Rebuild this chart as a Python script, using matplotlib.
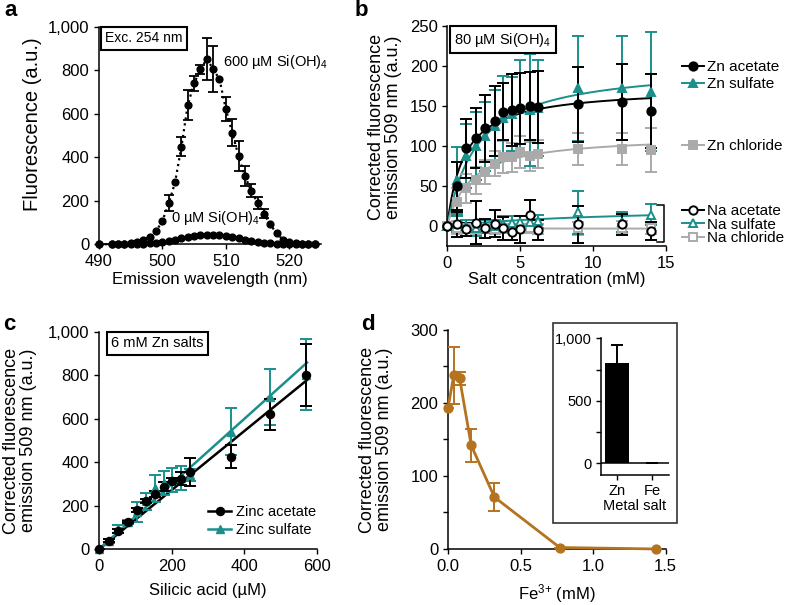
import numpy as np
import matplotlib
matplotlib.use('Agg')
import matplotlib.pyplot as plt
from matplotlib.ticker import FuncFormatter, MultipleLocator
from matplotlib.patches import Rectangle

plt.rcParams['font.family'] = ['Liberation Sans', 'DejaVu Sans']
plt.rcParams['mathtext.default'] = 'regular'
plt.rcParams['font.size'] = 12
plt.rcParams['axes.linewidth'] = 1.1
plt.rcParams['xtick.major.size'] = 3.5
plt.rcParams['ytick.major.size'] = 3.5
plt.rcParams['xtick.major.width'] = 1.0
plt.rcParams['ytick.major.width'] = 1.0

TEAL = '#1a8f8c'
GREY = '#aaaaaa'
BROWN = '#b5731f'

# ---- panel a: emission spectra ----
wavelength = [490, 492, 493, 494, 495, 496, 497, 498, 499, 500, 501, 502, 503, 504, 505,
              506, 507, 508, 509, 510, 511, 512, 513, 514, 515, 516, 517, 518, 519, 520,
              521, 522, 523, 524]
si_600 = [0, 1, 2, 3, 6, 12, 22, 33, 60, 107, 188, 285, 449, 640, 740,
          804, 851, 806, 758, 622, 513, 406, 314, 246, 191, 140, 92, 50, 22, 10,
          5, 3, 2, 2]
si_600_err = [0, 0, 0, 0, 0, 0, 0, 0, 0, 0, 37, 0, 42, 70, 35,
              20, 95, 106, 0, 55, 62, 70, 45, 30, 28, 20, 0, 0, 0, 0,
              0, 0, 0, 0]
si_0 = [0, 0, 0, 1, 1, 2, 3, 5, 8, 11, 16, 21, 27, 33, 38,
        42, 45, 44, 42, 38, 33, 28, 22, 17, 12, 8, 5, 3, 2, 1,
        0, 0, 0, 0]

# ---- panel b: salt titration ----
salt_mM = [0, 0.65, 1.3, 1.95, 2.6, 3.25, 3.85, 4.45, 5.0, 5.65, 6.25, 9, 12, 14]
zn_acetate = [0, 50, 97, 110, 122, 131, 143, 145, 147, 150, 149, 152, 155, 144]
zn_acetate_err = [0, 30, 37, 38, 42, 44, 36, 45, 44, 42, 45, 47, 48, 46]
zn_sulfate = [0, 57, 88, 100, 112, 125, 135, 140, 147, 145, 148, 172, 172, 168]
zn_sulfate_err = [0, 42, 40, 43, 43, 45, 52, 46, 60, 70, 60, 66, 65, 74]
zn_chloride = [0, 30, 47, 57, 68, 78, 86, 86, 93, 87, 90, 96, 96, 95]
zn_chloride_err = [0, 18, 18, 17, 15, 16, 20, 18, 20, 18, 17, 20, 20, 27]
na_acetate = [0, 2, -4, 4, -3, 3, -3, -7, -4, 14, -5, 2, 2, -6]
na_acetate_err = [0, 16, 8, 27, 12, 17, 14, 10, 17, 18, 12, 23, 13, 11]
na_sulfate = [0, 2, 0, -2, -1, 0, 2, 4, 5, 5, 6, 17, 5, 14]
na_sulfate_err = [0, 10, 8, 10, 8, 8, 10, 8, 8, 8, 8, 27, 12, 13]
na_chloride = [0, -2, -3, -4, -3, -4, -3, -3, -3, -3, -4, -3, -2, -3]
na_chloride_err = [0, 8, 6, 7, 6, 6, 6, 6, 6, 6, 6, 8, 8, 7]
# saturation fit parameters (Vmax, Km)
fit_vmax = [173, 202, 113.6, 25, -3.3]
fit_km = [1.15, 2.06, 1.6, 12, 0.3]
fit_colors = ['black', TEAL, GREY, TEAL, GREY]

# ---- panel c: silicic acid titration ----
si_uM = [0, 28, 53, 80, 105, 129, 154, 179, 202, 225, 250, 364, 470, 570]
zinc_acetate = [0, 40, 84, 127, 181, 223, 254, 288, 314, 325, 354, 426, 620, 800]
zinc_acetate_err = [0, 5, 8, 5, 10, 10, 15, 22, 15, 30, 65, 52, 70, 143]
zinc_sulfate = [0, 38, 95, 125, 170, 220, 280, 305, 318, 328, 340, 540, 700, 802]
zinc_sulfate_err = [0, 8, 18, 10, 45, 40, 62, 55, 55, 55, 28, 108, 130, 162]
slope_acetate = 1.36
slope_sulfate = 1.50

# ---- panel d: Fe3+ quenching ----
fe_mM = [0, 0.04, 0.08, 0.16, 0.32, 0.77, 1.43]
fe_signal = [193, 238, 234, 142, 71, 2, 0]
fe_err = [0, 39, 9, 23, 19, 0, 0]
metals = ['Zn', 'Fe']
metal_signal = [800, 0]
metal_err = [145, 0]

comma = FuncFormatter(lambda v, p: f'{int(v):,}')

fig = plt.figure(figsize=(7.88, 6.05), dpi=100)
ax_a = fig.add_axes([0.1256, 0.5962, 0.2817, 0.3597])
ax_b = fig.add_axes([0.5676, 0.5934, 0.2772, 0.3636])
ax_c = fig.add_axes([0.1256, 0.0921, 0.2770, 0.3597])
ax_d = fig.add_axes([0.5685, 0.0926, 0.2763, 0.3620])

for ax in (ax_a, ax_b, ax_c, ax_d):
    ax.spines['top'].set_visible(False)
    ax.spines['right'].set_visible(False)

box = dict(boxstyle='square,pad=0.3', fc='white', ec='black', lw=1.5)
ylab = 'Corrected fluorescence\nemission 509 nm (a.u.)'

# panel a
wl = np.array(wavelength)
e600 = np.array(si_600_err)
ax_a.plot(wl, si_0, '-', color='black', lw=1.2, marker='o', ms=4.9, clip_on=False, zorder=3)
ax_a.plot(wl, si_600, ':', color='black', lw=1.6, marker='o', ms=4.9, clip_on=False, zorder=3)
m = e600 > 0
ax_a.errorbar(wl[m], np.array(si_600)[m], yerr=e600[m], fmt='none', ecolor='black',
              elinewidth=1.3, capsize=3.5, capthick=1.3)
ax_a.set_xlim(490, 525)
ax_a.set_ylim(0, 1000)
ax_a.set_xticks([490, 500, 510, 520])
ax_a.set_yticks(range(0, 1001, 200))
ax_a.yaxis.set_major_formatter(comma)
ax_a.set_xlabel('Emission wavelength (nm)')
ax_a.set_ylabel('Fluorescence (a.u.)', fontsize=14.5)
ax_a.xaxis.set_label_coords(0.5, -0.125)
ax_a.yaxis.set_label_coords(-0.255, 0.55)
ax_a.text(0.203, 0.946, 'Exc. 254 nm', transform=ax_a.transAxes, ha='center', va='center',
          fontsize=10, bbox=box)
ax_a.text(509.6, 838, '600 µM Si(OH)$_4$', ha='left', va='center', fontsize=10.5)
ax_a.text(501.4, 121, '0 µM Si(OH)$_4$', ha='left', va='center', fontsize=10.5)

# panel b
xs = np.linspace(0, 14, 200)
for vmax, km, col in zip(fit_vmax, fit_km, fit_colors):
    ax_b.plot(xs, vmax * xs / (km + xs), color=col, lw=1.4, zorder=2)

series_b = [
    (zn_chloride, zn_chloride_err, GREY, 's', GREY, 'Zn chloride'),
    (na_chloride, na_chloride_err, GREY, 's', 'white', 'Na chloride'),
    (zn_sulfate, zn_sulfate_err, TEAL, '^', TEAL, 'Zn sulfate'),
    (na_sulfate, na_sulfate_err, TEAL, '^', 'white', 'Na sulfate'),
    (zn_acetate, zn_acetate_err, 'black', 'o', 'black', 'Zn acetate'),
    (na_acetate, na_acetate_err, 'black', 'o', 'white', 'Na acetate'),
]
handles = {}
for vals, errs, col, mk, face, lab in series_b:
    ax_b.errorbar(salt_mM, vals, yerr=errs, fmt='none', ecolor=col, elinewidth=1.4,
                  capsize=4, capthick=1.4, zorder=3)
    ax_b.plot(salt_mM, vals, linestyle='none', marker=mk, ms=6, mfc=face, mec=col,
              mew=1.4, zorder=4, clip_on=False)
    h, = ax_b.plot([], [], '-', color=col, marker=mk, ms=6, mfc=face, mec=col, mew=1.4, lw=1.4)
    handles[lab] = h

ax_b.set_xlim(0, 15)
ax_b.set_ylim(-25, 250)
ax_b.set_xticks([0, 5, 10, 15])
ax_b.set_yticks(range(0, 251, 50))
ax_b.set_xlabel('Salt concentration (mM)')
ax_b.set_ylabel(ylab, fontsize=13, linespacing=1.05)
ax_b.xaxis.set_label_coords(0.5, -0.118)
ax_b.yaxis.set_label_coords(-0.205, 0.54)
ax_b.text(0.254, 0.938, '80 µM Si(OH)$_4$', transform=ax_b.transAxes, ha='center',
          va='center', fontsize=10.5, bbox=box)
# bracket grouping the sodium salts
ax_b.plot([14.4, 14.9, 14.9, 14.4], [26, 26, -20, -20], color='black', lw=1.1, clip_on=False)

leg_kw = dict(frameon=False, fontsize=11, handlelength=1.45, handletextpad=0.2,
              borderaxespad=0, borderpad=0)
leg1 = ax_b.legend([handles['Zn acetate'], handles['Zn sulfate']], ['Zn acetate', 'Zn sulfate'],
                   loc='center left', bbox_to_anchor=(1.075, 0.773), labelspacing=0.2, **leg_kw)
leg2 = ax_b.legend([handles['Zn chloride']], ['Zn chloride'],
                   loc='center left', bbox_to_anchor=(1.075, 0.454), **leg_kw)
leg3 = ax_b.legend([handles['Na acetate'], handles['Na sulfate'], handles['Na chloride']],
                   ['Na acetate', 'Na sulfate', 'Na chloride'],
                   loc='center left', bbox_to_anchor=(1.075, 0.097), labelspacing=-0.05, **leg_kw)
ax_b.add_artist(leg1)
ax_b.add_artist(leg2)

# panel c
xl = np.array([0, 572])
ax_c.plot(xl, slope_acetate * xl, color='black', lw=1.8, zorder=2)
ax_c.plot(xl, slope_sulfate * xl, color=TEAL, lw=1.8, zorder=2)
ax_c.errorbar(si_uM, zinc_sulfate, yerr=zinc_sulfate_err, fmt='none', ecolor=TEAL,
              elinewidth=1.4, capsize=4, capthick=1.4, zorder=3)
ax_c.errorbar(si_uM, zinc_acetate, yerr=zinc_acetate_err, fmt='none', ecolor='black',
              elinewidth=1.4, capsize=4, capthick=1.4, zorder=3)
ax_c.plot(si_uM, zinc_sulfate, linestyle='none', marker='^', ms=5.5, color=TEAL, zorder=4,
          clip_on=False)
ax_c.plot(si_uM, zinc_acetate, linestyle='none', marker='o', ms=5.8, color='black', zorder=5,
          clip_on=False)
hc1, = ax_c.plot([], [], '-', color='black', marker='o', ms=5.8, lw=1.8)
hc2, = ax_c.plot([], [], '-', color=TEAL, marker='^', ms=5.5, lw=1.8)
ax_c.legend([hc1, hc2], ['Zinc acetate', 'Zinc sulfate'], loc='center left',
            bbox_to_anchor=(0.5, 0.13), frameon=False, fontsize=10.5, handlelength=1.6,
            handletextpad=0.3, labelspacing=0.3, borderaxespad=0, borderpad=0)
ax_c.set_xlim(0, 600)
ax_c.set_ylim(0, 1000)
ax_c.set_xticks([0, 200, 400, 600])
ax_c.set_yticks(range(0, 1001, 200))
ax_c.yaxis.set_major_formatter(comma)
ax_c.set_xlabel('Silicic acid (µM)')
ax_c.set_ylabel(ylab, fontsize=13, linespacing=1.05)
ax_c.xaxis.set_label_coords(0.5, -0.156)
ax_c.yaxis.set_label_coords(-0.283, 0.5)
ax_c.text(0.268, 0.946, '6 mM Zn salts', transform=ax_c.transAxes, ha='center',
          va='center', fontsize=10.5, bbox=box)

# panel d
ax_d.errorbar(fe_mM, fe_signal, yerr=fe_err, fmt='none', ecolor=BROWN, elinewidth=1.4,
              capsize=4, capthick=1.4, zorder=3)
ax_d.plot(fe_mM, fe_signal, '-', color=BROWN, lw=2.0, marker='o', ms=6.4, zorder=4,
          clip_on=False)
ax_d.set_xlim(0, 1.5)
ax_d.set_ylim(0, 300)
ax_d.set_xticks([0, 0.5, 1.0, 1.5])
ax_d.xaxis.set_major_formatter(FuncFormatter(lambda v, p: f'{v:.1f}'))
ax_d.set_yticks([0, 100, 200, 300])
ax_d.yaxis.set_minor_locator(MultipleLocator(50))
ax_d.tick_params(axis='y', which='minor', length=3.5, width=1.0)
ax_d.set_xlabel('Fe$^{3{+}}$ (mM)')
ax_d.set_ylabel(ylab, fontsize=13, linespacing=1.05)
ax_d.xaxis.set_label_coords(0.5, -0.15)
ax_d.yaxis.set_label_coords(-0.251, 0.5)

# inset
fig.add_artist(Rectangle((0.7022, 0.1360), 0.1566, 0.3296, transform=fig.transFigure,
                         fill=False, ec='#333333', lw=1.2))
ax_in = fig.add_axes([0.7623, 0.2149, 0.0871, 0.2260])
ax_in.spines['top'].set_visible(False)
ax_in.spines['right'].set_visible(False)
ax_in.bar([0, 1], metal_signal, width=0.68, color='black', zorder=2)
ax_in.errorbar([0, 1], metal_signal, yerr=metal_err, fmt='none', ecolor='black',
               elinewidth=1.4, capsize=4, capthick=1.4)
ax_in.axhline(0, color='black', lw=1.1)
ax_in.set_xlim(-0.47, 1.49)
ax_in.set_ylim(-94, 1000)
ax_in.set_xticks([0, 1])
ax_in.set_xticklabels(metals)
ax_in.set_yticks([0, 500, 1000])
ax_in.yaxis.set_minor_locator(MultipleLocator(250))
ax_in.yaxis.set_major_formatter(comma)
ax_in.tick_params(labelsize=10.5, pad=3)
ax_in.tick_params(axis='y', which='minor', length=3.5, width=1.0)
ax_in.set_xlabel('Metal salt', fontsize=10.5, labelpad=1)

# panel letters
for lab, x, y in [('a', 0.014, 0.983), ('b', 0.459, 0.983), ('c', 0.0114, 0.463), ('d', 0.467, 0.463)]:
    fig.text(x, y, lab, fontsize=16, fontweight='bold', ha='center', va='center')

fig.savefig('out.png', dpi=100)
